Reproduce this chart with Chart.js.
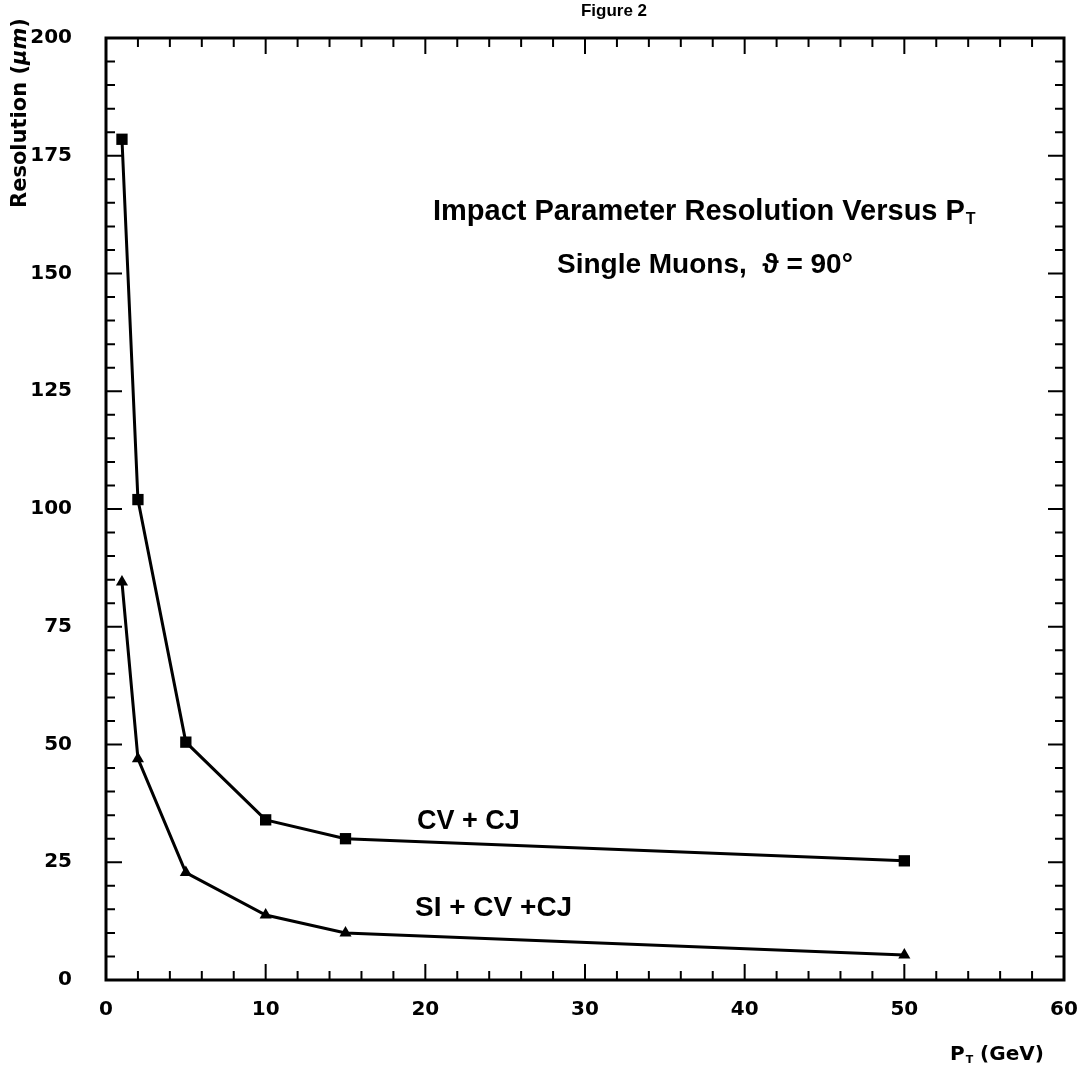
<!DOCTYPE html>
<html>
<head>
<meta charset="utf-8">
<script src="https://cdn.jsdelivr.net/npm/chart.js@4.4.0/dist/chart.umd.min.js"></script>
<style>
  html, body { margin: 0; padding: 0; background: #fff; }
  #wrap { width: 1092px; height: 1076px; }
</style>
</head>
<body>
<div id="wrap"><canvas id="chart" width="1092" height="1076"></canvas></div>
<script>
// P_T (GeV) values, shared by both curves
const ptValues   = [1, 2, 5, 10, 15, 50];
// resolution in micrometres
const cvCj       = [178.5, 102, 50.5, 34, 30, 25.3];
const siCvCj     = [84.5, 47, 22.8, 13.8, 10, 5.3];
const xTicks     = [0, 10, 20, 30, 40, 50, 60];
const yTicks     = [0, 25, 50, 75, 100, 125, 150, 175, 200];

const FONT  = '"Liberation Sans", Arial, sans-serif';
const DFONT = '"DejaVu Sans", sans-serif';
const ink   = '#000';

function pairs(xs, ys) {
  return xs.map((x, i) => ({ x: x, y: ys[i] }));
}

// text with a lowered small "T" for P_T
function drawPT(ctx, x, y, size, fam, after) {
  ctx.font = 'bold ' + size + 'px ' + fam;
  ctx.fillText('P', x, y);
  let w = ctx.measureText('P').width;
  ctx.font = 'bold ' + Math.round(size * 0.55) + 'px ' + fam;
  ctx.fillText('T', x + w + 1, y + size * 0.25);
  w += ctx.measureText('T').width + 1;
  if (after) {
    ctx.font = 'bold ' + size + 'px ' + fam;
    ctx.fillText(after, x + w, y);
  }
}

// frame, inward ticks on all sides, texts
const framePlugin = {
  id: 'frame',
  afterDraw(chart) {
    const ctx = chart.ctx;
    const a = chart.chartArea;
    const xs = chart.scales.x, ys = chart.scales.y;
    ctx.save();
    ctx.strokeStyle = ink;
    ctx.lineWidth = 3;
    ctx.strokeRect(a.left, a.top, a.right - a.left, a.bottom - a.top);

    ctx.lineWidth = 2;
    ctx.beginPath();
    for (let v = 0; v <= 60; v += 2) {
      const px = xs.getPixelForValue(v);
      const len = (v % 10 === 0) ? 16 : 9;
      ctx.moveTo(px, a.bottom); ctx.lineTo(px, a.bottom - len);
      ctx.moveTo(px, a.top);    ctx.lineTo(px, a.top + len);
    }
    for (let v = 0; v <= 200; v += 5) {
      const py = ys.getPixelForValue(v);
      const len = (v % 25 === 0) ? 16 : 9;
      ctx.moveTo(a.left, py);  ctx.lineTo(a.left + len, py);
      ctx.moveTo(a.right, py); ctx.lineTo(a.right - len, py);
    }
    ctx.stroke();

    ctx.fillStyle = ink;
    ctx.textBaseline = 'middle';

    // top caption
    ctx.font = 'bold 17px ' + FONT;
    ctx.textAlign = 'center';
    ctx.fillText('Figure 2', 614, 11);

    // plot title
    ctx.textAlign = 'left';
    ctx.font = 'bold 29px ' + FONT;
    const t1 = 'Impact Parameter Resolution Versus ';
    const w1 = ctx.measureText(t1).width;
    const x1 = 433;
    ctx.fillText(t1, x1, 212);
    drawPT(ctx, x1 + w1, 212, 29, FONT);

    ctx.font = 'bold 28px ' + FONT;
    ctx.fillText('Single Muons,  \u03d1 = 90\u00b0', 557, 265);

    // curve labels
    ctx.font = 'bold 27px ' + FONT;
    ctx.fillText('CV + CJ', 417, 822);
    ctx.font = 'bold 28px ' + FONT;
    ctx.fillText('SI + CV +CJ', 415, 908);

    // axis titles
    drawPT(ctx, 950, 1055, 20, DFONT, ' (GeV)');

    ctx.save();
    ctx.translate(21, 113);
    ctx.rotate(-Math.PI / 2);
    const r1 = 'Resolution (';
    const r2 = '\u03bcm';
    const r3 = ')';
    const sz = 21;
    ctx.font = 'bold ' + sz + 'px ' + DFONT;
    let total = ctx.measureText(r1).width + ctx.measureText(r3).width;
    ctx.font = 'italic bold ' + sz + 'px ' + DFONT;
    total += ctx.measureText(r2).width;
    let cx = -total / 2;
    ctx.font = 'bold ' + sz + 'px ' + DFONT;
    ctx.fillText(r1, cx, 0); cx += ctx.measureText(r1).width;
    ctx.font = 'italic bold ' + sz + 'px ' + DFONT;
    ctx.fillText(r2, cx, 0); cx += ctx.measureText(r2).width;
    ctx.font = 'bold ' + sz + 'px ' + DFONT;
    ctx.fillText(r3, cx, 0);
    ctx.restore();

    ctx.restore();
  }
};

new Chart(document.getElementById('chart'), {
  type: 'scatter',
  data: {
    datasets: [
      {
        label: 'CV + CJ',
        data: pairs(ptValues, cvCj),
        showLine: true,
        borderColor: ink,
        backgroundColor: ink,
        borderWidth: 3,
        pointStyle: 'rect',
        pointRadius: 8,
        pointBorderWidth: 0
      },
      {
        label: 'SI + CV +CJ',
        data: pairs(ptValues, siCvCj),
        showLine: true,
        borderColor: ink,
        backgroundColor: ink,
        borderWidth: 3,
        pointStyle: 'triangle',
        pointRadius: 7,
        pointBorderWidth: 0
      }
    ]
  },
  options: {
    responsive: false,
    animation: false,
    layout: { padding: { left: 0, top: 11, right: 28, bottom: 0 } },
    plugins: {
      legend: { display: false },
      tooltip: { enabled: false }
    },
    scales: {
      x: {
        type: 'linear',
        min: 0, max: 60,
        afterFit(s) { s.height = 96; },
        afterBuildTicks(s) { s.ticks = xTicks.map(v => ({ value: v })); },
        grid: { display: false },
        border: { display: false },
        ticks: {
          color: ink,
          padding: 10,
          font: { family: DFONT, size: 20, weight: 'bold' }
        }
      },
      y: {
        type: 'linear',
        min: 0, max: 200,
        afterFit(s) { s.width = 106; },
        afterBuildTicks(s) { s.ticks = yTicks.map(v => ({ value: v })); },
        grid: { display: false },
        border: { display: false },
        ticks: {
          color: ink,
          padding: 26,
          font: { family: DFONT, size: 20, weight: 'bold' }
        }
      }
    }
  },
  plugins: [framePlugin]
});
</script>
</body>
</html>
